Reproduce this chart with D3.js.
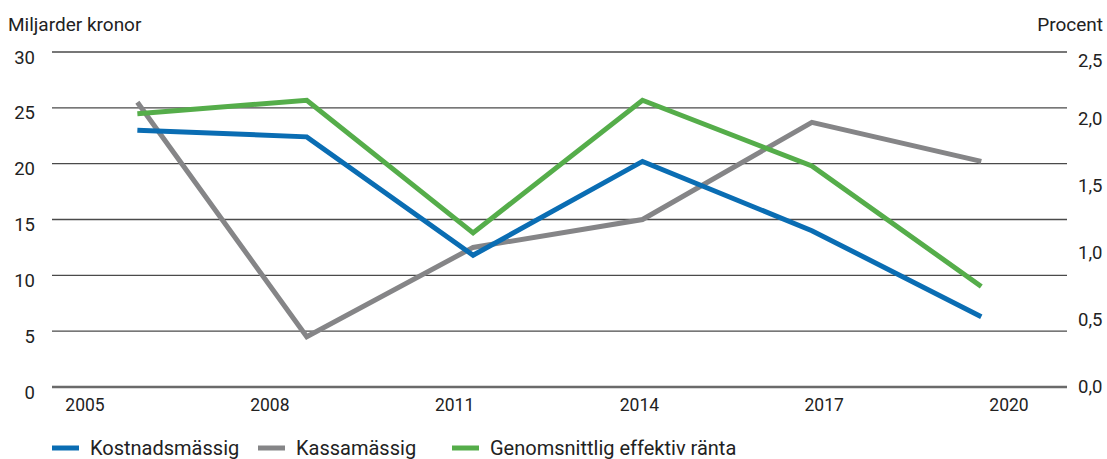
<!DOCTYPE html>
<html>
<head>
<meta charset="utf-8">
<script src="https://cdn.jsdelivr.net/npm/d3@7"></script>
<style>
  html, body { margin: 0; padding: 0; background: #fff; }
  svg { display: block; font-family: Roboto, "Noto Sans", sans-serif; }
</style>
</head>
<body>
<svg id="chart" width="1107" height="459"></svg>
<script>
// ---- data ----
const periods = [2005.85, 2008.6, 2011.3, 2014.05, 2016.8, 2019.55];
const kostnadsmassig = [23.0, 22.4, 11.8, 20.2, 14.0, 6.3];
const kassamassig = [25.5, 4.5, 12.5, 15.0, 23.7, 20.2];
const effektivRanta = [2.04, 2.14, 1.15, 2.14, 1.65, 0.75];
const xTickYears = [2005, 2008, 2011, 2014, 2017, 2020];
const leftTicks = [0, 5, 10, 15, 20, 25, 30];
const rightTicks = [0, 0.5, 1.0, 1.5, 2.0, 2.5];
const seriesNames = ["Kostnadsmässig", "Kassamässig", "Genomsnittlig effektiv ränta"];
const seriesColors = ["#0a6db3", "#858587", "#55ad4a"];

const svg = d3.select("#chart");
const plotLeft = 52, plotRight = 1067, plotTop = 52, plotBottom = 387;

const x = d3.scaleLinear().domain([2005, 2020]).range([85, 1009]);
const yL = d3.scaleLinear().domain([0, 30]).range([plotBottom, plotTop]);
const yR = d3.scaleLinear().domain([0, 2.5]).range([plotBottom, plotTop]);

// gridlines
svg.append("g").selectAll("line").data(leftTicks).join("line")
  .attr("x1", plotLeft).attr("x2", plotRight)
  .attr("y1", d => yL(d)).attr("y2", d => yL(d))
  .attr("stroke", d => d === 0 ? "#6a6a6a" : "#4a4a4a")
  .attr("stroke-width", d => d === 0 ? 2.5 : 1.3);

// left axis labels
svg.append("g").selectAll("text").data(leftTicks).join("text")
  .attr("x", 35).attr("y", d => yL(d) + 5.5)
  .attr("text-anchor", "end").attr("dominant-baseline", "central")
  .attr("font-size", 18.5).attr("fill", "#222")
  .text(d => d);

// right axis labels
const fmtR = d => d3.format(".1f")(d).replace(".", ",");
svg.append("g").selectAll("text").data(rightTicks).join("text")
  .attr("x", 1078).attr("y", d => yR(d) + (d === 2.5 ? 9 : 0))
  .attr("text-anchor", "start").attr("dominant-baseline", "central")
  .attr("font-size", 18.5).attr("fill", "#222")
  .text(fmtR);

// x axis labels
svg.append("g").selectAll("text").data(xTickYears).join("text")
  .attr("x", d => x(d)).attr("y", 411)
  .attr("text-anchor", "middle")
  .attr("font-size", 17.5).attr("fill", "#222")
  .text(d => d);

// axis titles
svg.append("text").attr("x", 8).attr("y", 31).attr("font-size", 19).attr("fill", "#222").text("Miljarder kronor");
svg.append("text").attr("x", 1103).attr("y", 31).attr("text-anchor", "end").attr("font-size", 19).attr("fill", "#222").text("Procent");

// lines
const lineL = d3.line().x((d, i) => x(periods[i])).y(d => yL(d));
const lineR = d3.line().x((d, i) => x(periods[i])).y(d => yR(d));
const g = svg.append("g").attr("fill", "none").attr("stroke-width", 5).attr("stroke-linejoin", "miter");
g.append("path").attr("d", lineL(kassamassig)).attr("stroke", seriesColors[1]);
g.append("path").attr("d", lineL(kostnadsmassig)).attr("stroke", seriesColors[0]);
g.append("path").attr("d", lineR(effektivRanta)).attr("stroke", seriesColors[2]);

// legend
const legendX = [52, 258, 452];
const lg = svg.append("g");
seriesNames.forEach((name, i) => {
  lg.append("line").attr("x1", legendX[i]).attr("x2", legendX[i] + 27)
    .attr("y1", 448).attr("y2", 448)
    .attr("stroke", seriesColors[i]).attr("stroke-width", 5);
  lg.append("text").attr("x", legendX[i] + 38).attr("y", 455)
    .attr("font-size", 20).attr("fill", "#222").text(name);
});
</script>
</body>
</html>
